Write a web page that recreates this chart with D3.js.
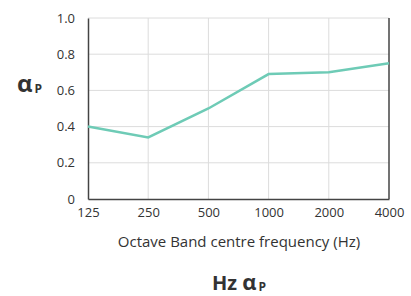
<!DOCTYPE html>
<html>
<head>
<meta charset="utf-8">
<script src="https://cdn.jsdelivr.net/npm/d3@7"></script>
<style>
body{margin:0;background:#fff;}
text{font-family:"Open Sans",sans-serif;fill:#333;}
</style>
</head>
<body>
<svg id="chart" width="411" height="296"></svg>
<script>
// data
var freqs = ["125","250","500","1000","2000","4000"];
var alpha = [0.40, 0.34, 0.50, 0.69, 0.70, 0.75];
var yTicks = [0, 0.2, 0.4, 0.6, 0.8, 1.0];

var svg = d3.select("#chart");
var m = {left:88, right:389, top:18, bottom:199};

var x = d3.scalePoint().domain(freqs).range([m.left, m.right]);
var y = d3.scaleLinear().domain([0,1]).range([m.bottom, m.top]);

// gridlines
svg.append("g").selectAll("line").data(yTicks.slice(1))
  .enter().append("line")
  .attr("x1",m.left).attr("x2",m.right)
  .attr("y1",function(d){return y(d);}).attr("y2",function(d){return y(d);})
  .attr("stroke","#dcdcdc").attr("stroke-width",1);
svg.append("g").selectAll("line").data(freqs.slice(1,-1))
  .enter().append("line")
  .attr("x1",function(d){return x(d);}).attr("x2",function(d){return x(d);})
  .attr("y1",m.top).attr("y2",m.bottom)
  .attr("stroke","#dcdcdc").attr("stroke-width",1);

// axes
var yAxis = svg.append("g").attr("transform","translate("+m.left+",0)")
  .call(d3.axisLeft(y).tickValues(yTicks).tickSize(0).tickPadding(13)
    .tickFormat(function(d){return d==0?"0":d3.format(".1f")(d);}));
yAxis.select(".domain").attr("stroke","#444").attr("stroke-width",1.5);
yAxis.selectAll("text").attr("font-size",13).attr("font-family","Open Sans").attr("fill","#333");

var xAxis = svg.append("g").attr("transform","translate(0,"+m.bottom+")")
  .call(d3.axisBottom(x).tickSize(0).tickPadding(9));
xAxis.select(".domain").attr("stroke","#444").attr("stroke-width",1.5);
xAxis.selectAll("text").attr("font-size",13).attr("font-family","Open Sans").attr("fill","#333");

// right border
svg.append("line").attr("x1",m.right).attr("x2",m.right)
  .attr("y1",m.top).attr("y2",m.bottom)
  .attr("stroke","#444").attr("stroke-width",1.5);

// the line
var line = d3.line()
  .x(function(d,i){return x(freqs[i]);})
  .y(function(d){return y(d);});
svg.append("path").datum(alpha)
  .attr("d",line).attr("fill","none")
  .attr("stroke","#6ecbb6").attr("stroke-width",2.5);

// labels
var yl = svg.append("text").attr("x",17).attr("y",92)
  .attr("font-size",24).attr("font-weight","bold");
yl.append("tspan").text("α");
yl.append("tspan").attr("font-size",12).attr("dx",2).attr("dy",1).text("P");

svg.append("text").attr("x",239).attr("y",247).attr("text-anchor","middle")
  .attr("font-size",15).text("Octave Band centre frequency (Hz)");

var bl = svg.append("text").attr("x",212).attr("y",290)
  .attr("font-size",20).attr("font-weight","bold");
bl.append("tspan").text("Hz ");
bl.append("tspan").attr("font-size",22).text("α");
bl.append("tspan").attr("font-size",12).attr("dx",2).attr("dy",1).text("P");
</script>
</body>
</html>
